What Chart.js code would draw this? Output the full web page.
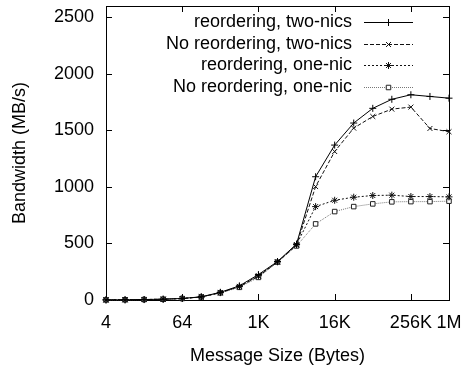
<!DOCTYPE html>
<html>
<head>
<meta charset="utf-8">
<script src="https://cdn.jsdelivr.net/npm/chart.js@4/dist/chart.umd.min.js"></script>
<style>
  html, body { margin: 0; padding: 0; background: #fff; }
  #wrap { width: 462px; height: 367px; }
</style>
</head>
<body>
<div id="wrap"><canvas id="bw"></canvas></div>
<script>
// message sizes in bytes, 4 .. 1M
const sizes = [4, 8, 16, 32, 64, 128, 256, 512, 1024, 2048, 4096, 8192, 16384,
  32768, 65536, 131072, 262144, 524288, 1048576];

const reorderTwoNics = [1, 2, 4, 7, 14, 28, 68, 125, 225, 340, 495, 1090, 1370, 1565, 1695, 1775, 1815, 1800, 1785];
const noReorderTwoNics = [1, 2, 4, 7, 13, 27, 64, 118, 210, 335, 485, 1003, 1313, 1520, 1623, 1688, 1706, 1517, 1488];
const reorderOneNic = [1, 2, 4, 7, 13, 27, 65, 120, 215, 338, 490, 826, 882, 909, 924, 927, 915, 915, 912];
const noReorderOneNic = [1, 2, 4, 7, 13, 27, 63, 112, 200, 335, 478, 673, 782, 826, 850, 868, 870, 870, 874];

const xTickValues = [4, 64, 1024, 16384, 262144, 1048576];
const xTickLabels = ["4", "64", "1K", "16K", "256K", "1M"];
const yTickValues = [0, 500, 1000, 1500, 2000, 2500];

const FONT = "'Liberation Sans', Arial, sans-serif";

function series(label, values, style) {
  return Object.assign({
    label,
    data: sizes.map((s, i) => ({ x: s, y: values[i] })),
    borderWidth: 1,
    pointRadius: 3.5,
    pointBorderWidth: 1,
    pointBackgroundColor: "#fff",
    fill: false,
    tension: 0,
    clip: false,
  }, style);
}

const datasets = [
  series("reordering, two-nics", reorderTwoNics, {
    borderColor: "#000", pointBorderColor: "#000", pointStyle: "cross", borderDash: [],
  }),
  series("No reordering, two-nics", noReorderTwoNics, {
    borderColor: "#111", pointBorderColor: "#111", pointStyle: "crossRot", borderDash: [4, 2],
  }),
  series("reordering, one-nic", reorderOneNic, {
    borderColor: "#111", pointBorderColor: "#111", pointStyle: "star", borderDash: [2, 2],
  }),
  series("No reordering, one-nic", noReorderOneNic, {
    borderColor: "#777", pointBorderColor: "#222", pointStyle: "rect", pointRadius: 3.2, borderDash: [1, 1],
  }),
];

// gnuplot-like frame: full box, inward ticks on all four sides
const framePlugin = {
  id: "frame",
  beforeDatasetsDraw(chart) {
    const { ctx, chartArea: a, scales } = chart;
    ctx.save();
    ctx.strokeStyle = "#000";
    ctx.lineWidth = 1;
    ctx.strokeRect(a.left + 0.5, a.top + 0.5, a.right - a.left, a.bottom - a.top);
    ctx.beginPath();
    const t = 6;
    xTickValues.forEach(v => {
      const x = Math.round(scales.x.getPixelForValue(v)) + 0.5;
      ctx.moveTo(x, a.bottom); ctx.lineTo(x, a.bottom - t);
      ctx.moveTo(x, a.top); ctx.lineTo(x, a.top + t);
    });
    yTickValues.forEach(v => {
      const y = Math.round(scales.y.getPixelForValue(v)) + 0.5;
      ctx.moveTo(a.left, y); ctx.lineTo(a.left + t, y);
      ctx.moveTo(a.right, y); ctx.lineTo(a.right - t, y);
    });
    ctx.stroke();
    ctx.restore();
  },
};

// key in the top right corner, text right-aligned before the sample line
const keyPlugin = {
  id: "key",
  afterDraw(chart) {
    const { ctx } = chart;
    ctx.save();
    ctx.font = "18px " + FONT;
    ctx.textAlign = "right";
    ctx.textBaseline = "middle";
    const textRight = 352, x0 = 364, x1 = 413, top = 22, step = 21.7;
    chart.data.datasets.forEach((ds, i) => {
      const y = Math.round(top + i * step) + 0.5;
      ctx.fillStyle = "#000";
      ctx.fillText(ds.label, textRight, y);
      ctx.beginPath();
      ctx.strokeStyle = ds.borderColor;
      ctx.lineWidth = 1;
      ctx.setLineDash(ds.borderDash);
      ctx.moveTo(x0, y);
      ctx.lineTo(x1, y);
      ctx.stroke();
      ctx.setLineDash([]);
      ctx.fillStyle = "#fff";
      ctx.strokeStyle = ds.pointBorderColor;
      Chart.helpers.drawPoint(ctx, {
        pointStyle: ds.pointStyle,
        radius: ds.pointRadius,
        borderWidth: 1,
      }, (x0 + x1) / 2, y);
    });
    ctx.restore();
  },
};

Chart.defaults.font.family = FONT;
Chart.defaults.color = "#000";

new Chart(document.getElementById("bw"), {
  type: "line",
  data: { datasets },
  options: {
    responsive: true,
    maintainAspectRatio: false,
    animation: false,
    layout: { padding: { left: 0, top: 6, right: 13, bottom: 0 } },
    plugins: { legend: { display: false }, tooltip: { enabled: false } },
    elements: { point: { hoverRadius: 3.5 } },
    scales: {
      x: {
        type: "logarithmic",
        min: 4,
        max: 1048576,
        afterBuildTicks(scale) {
          scale.ticks = xTickValues.map(v => ({ value: v }));
        },
        afterFit(scale) {
          scale.height = 67;
          scale.paddingLeft = 0;
          scale.paddingRight = 0;
        },
        grid: { display: false, drawTicks: false },
        border: { display: false },
        ticks: {
          autoSkip: false,
          maxRotation: 0,
          padding: 12,
          font: { size: 18 },
          color: "#000",
          callback(value) {
            const i = xTickValues.indexOf(value);
            return i >= 0 ? xTickLabels[i] : "";
          },
        },
        title: {
          display: true,
          text: "Message Size (Bytes)",
          font: { size: 18 },
          color: "#000",
          padding: { top: 6, bottom: 0 },
        },
      },
      y: {
        min: 0,
        max: 2600,
        afterBuildTicks(scale) {
          scale.ticks = yTickValues.map(v => ({ value: v }));
        },
        afterFit(scale) {
          scale.width = 106;
          scale.paddingTop = 0;
          scale.paddingBottom = 0;
        },
        grid: { display: false, drawTicks: false },
        border: { display: false },
        ticks: {
          padding: 12,
          font: { size: 18 },
          color: "#000",
          callback: value => String(value),
        },
        title: {
          display: true,
          text: "Bandwidth (MB/s)",
          font: { size: 18 },
          color: "#000",
          padding: { top: 9, bottom: 0 },
        },
      },
    },
  },
  plugins: [framePlugin, keyPlugin],
});
</script>
</body>
</html>
